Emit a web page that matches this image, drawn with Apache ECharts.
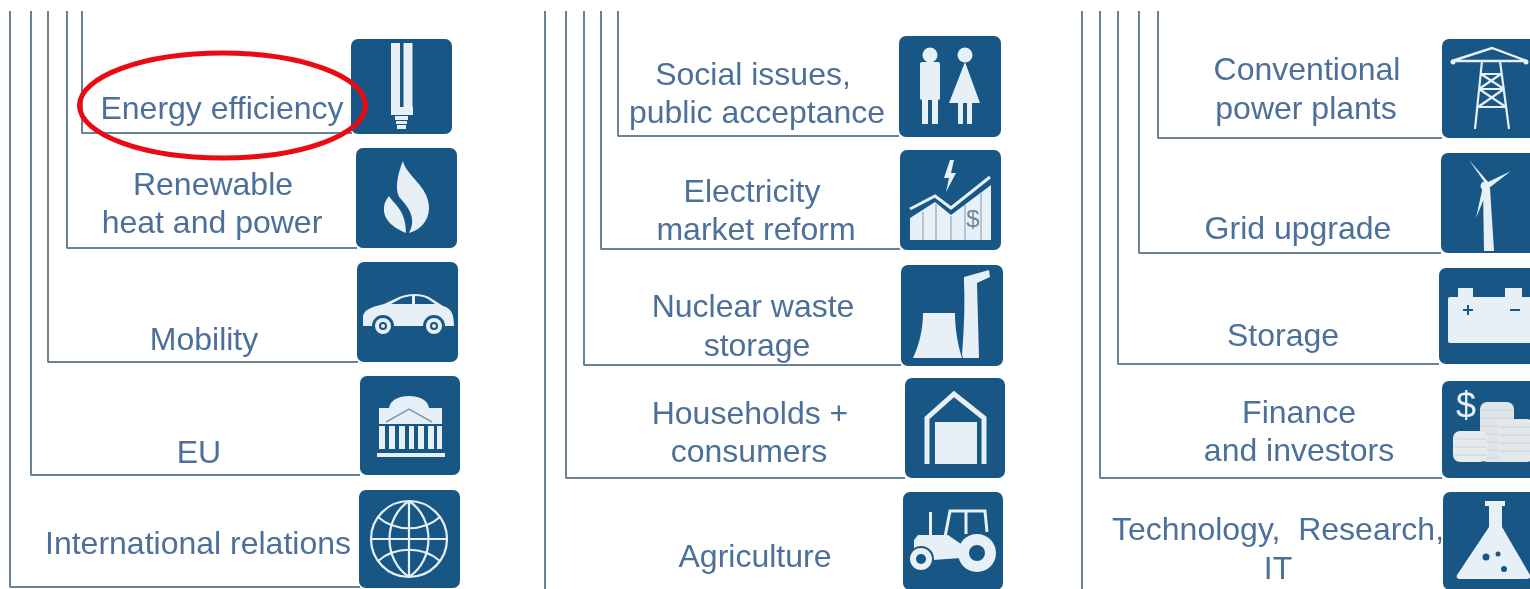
<!DOCTYPE html>
<html><head><meta charset="utf-8">
<style>html,body{margin:0;padding:0;background:#fff}#c{width:1530px;height:589px}</style>
<script src="https://cdn.jsdelivr.net/npm/echarts@6/dist/echarts.min.js"></script>
</head><body><div id="c"></div>
<script>
// Text lines and where each one sits on the hidden page axes
const labelLines = ['Energy efficiency','Renewable','heat and power','Mobility','EU','International relations',
  'Social issues,','public acceptance','Electricity','market reform','Nuclear waste','storage','Households +','consumers','Agriculture',
  'Conventional','power plants','Grid upgrade','Storage','Finance','and investors','Technology,  Research,','IT'];
const labelX = [222,213,212,204,199,198, 753,757,752,756,753,757,750,749,755, 1307,1306,1298,1283,1299,1299,1278,1278];
const labelY = [108,184,222,339,452,543, 74,112,191,229,306,345,413,451,556, 69,108,228,335,412,450,529,568];

// Bracket trunks: trunk x, elbow y, end x
const trunkX = [82,67,48,31,10, 618,601,584,566,545, 1158,1139,1118,1100,1082];
const elbowY = [133,248,362,475,587, 136,249,365,478,590, 138,253,364,478,590];
const endX   = [352,357,358,360,360, 899,900,901,905,903, 1442,1441,1439,1442,1443];

// Icon tiles
const iconNames = ['bulb','flame','car','building','globe','people','market','plant','house','tractor','pylon','wind','battery','coins','flask'];
const tileLeft  = [351,356,357,360,359, 899,900,901,905,903, 1442,1441,1439,1442,1443];
const tileTop   = [39,148,262,376,490, 36,150,265,378,492, 39,153,268,381,492];
const tileRight = [452,457,458,460,460, 1001,1001,1003,1005,1003, 1543,1542,1540,1543,1544];
const tileBottom= [134,248,362,475,588, 137,250,366,478,590, 138,253,364,478,590];

// Highlight ellipse: centre x, centre y, radius x, radius y
const highlight = [222.5,105.5,143,52.5];

const TILE='#185785', INK='#e6f0f6', TXT='#4c7099', RULE='#6a8295', RED='#ec0a12';
const fill=(d,c)=>({type:'path',shape:{pathData:d},style:{fill:c||INK}});
const line=(d,w,c)=>({type:'path',shape:{pathData:d},style:{fill:'none',stroke:c||INK,lineWidth:w||2}});
const rect=(x,y,w,h,c,r)=>({type:'rect',shape:{x,y,width:w,height:h,r:r||0},style:{fill:c||INK}});
const disc=(x,y,r,c)=>({type:'circle',shape:{cx:x,cy:y,r},style:{fill:c||INK}});
const glyph=(t,x,y,s,c)=>({type:'text',x,y,style:{text:t,fill:c||INK,font:s+'px "Liberation Sans"',textAlign:'center',textVerticalAlign:'middle'}});
const stack=(x,y,w,h,c)=>{
  const out=[rect(x,y,w,h,c,7)];
  for(let k=y+8;k<y+h-3;k+=8) out.push(line('M'+(x+1)+' '+k+'L'+(x+w-1)+' '+k,1,'#cbd5da'));
  return out;
};

const icons={
 bulb:()=>[rect(40,4,9,64),rect(52.5,4,9,64),rect(40,68,22,8),rect(44,77,13,4),rect(45,82,11,3),rect(46,86,9,4)],
 flame:()=>[fill('M47 13C50 28 73 38 73 60C73 73 64 82 53 85C60 72 55 62 44 50C38 42 42 25 47 13Z'),
   fill('M33 48C38 56 50 62 50 85C38 80 27 72 28 60C28 55 30 52 33 48Z')],
 car:()=>[fill('M6 54C7 48 14 45 27 42L42 35C52 31 64 31 72 35L86 44C93 46 97 50 97 64L6 64Z'),
   fill('M34 42L45 36C49 35 52 34 55 34L55 42Z',TILE),fill('M58 34C63 34 68 35 71 37L78 42L58 42Z',TILE),
   disc(26,64,11,TILE),disc(26,64,8),disc(26,64,4,TILE),disc(26,64,2),
   disc(77,64,11,TILE),disc(77,64,8),disc(77,64,4,TILE),disc(77,64,2)],
 building:()=>[fill('M29 32C30 24 39 20 49 20C59 20 68 24 69 32Z'),rect(19,32,63,16),
   line('M26 46L49 33L72 46',1.5,'#7d9ab3'),
   rect(19,50,6,23),rect(29,50,6,23),rect(39,50,6,23),rect(49,50,5,23),rect(58,50,6,23),rect(68,50,6,23),rect(77,50,5,23),rect(17,77,68,4)],
 globe:()=>[line('M12 49A38 38 0 1 0 88 49A38 38 0 1 0 12 49Z',2.2),line('M50 11L50 87M12 49L88 49',2.2),
   line('M50 11C24 28 24 70 50 87M50 11C76 28 76 70 50 87',2.2),line('M19 27C36 42 64 42 81 27M19 71C36 56 64 56 81 71',2.2)],
 people:()=>[disc(31,19,7.5),rect(21,26,20,38,INK,2),rect(23,62,6,26),rect(33,62,6,26),
   disc(66,19,7.5),fill('M66 26L81 67L50 67Z'),rect(59,66,5,22),rect(68,66,5,22)],
 market:()=>[fill('M10 68L35 52L51 65L91 35L91 90L10 90Z'),line('M10 59L35 46L51 58L90 27',3),
   fill('M50 10L44 28L49 28L46 42L56 23L51 23L54 10Z'),
   line('M23 62L23 90M36 54L36 90M51 66L51 90M65 55L65 90M81 42L81 90',1,'#7d9ab3'),
   glyph('$',73,70,24,'#6f8799')],
 plant:()=>[fill('M22 48L54 48C54 65 57 80 61 93L12 93C18 80 22 65 22 48Z'),
   fill('M63 18L63 12L88 5L89 12L76 18L78 93L62 93L61 90C63 65 64 40 63 18Z')],
 house:()=>[line('M22 86L22 40L49 16L79 40L79 86',5),rect(30,44,42,42)],
 tractor:()=>[line('M42 45L47 19L82 19L84 40M63 19L63 42',3),rect(26,20,3,25),
   fill('M11 48L15 43L45 43L58 52L58 66L30 68L11 62Z'),
   disc(74,61,19),disc(74,61,8,TILE),disc(18,67,13,TILE),disc(18,67,11),disc(18,67,5,TILE)],
 pylon:()=>[line('M10 22L50 9L85 22M10 22L85 22',2.4),disc(11,23,2.5),disc(84,23,2.5),
   line('M40 22L33 90M58 22L67 90M39 35L59 35M37 50L62 50M36 68L64 68M39 35L62 50M59 35L37 50M37 50L64 68M62 50L36 68',2.2)],
 wind:()=>[fill('M42 35L49 35L53 98L43 98Z'),disc(44,33,4.5),fill('M44 30L28 7L48 30Z'),fill('M45 30L70 18L48 35Z'),fill('M42 33L35 65L47 36Z')],
 battery:()=>[rect(9,29,85,46,INK,2),rect(19,20,15,9),rect(66,20,17,9),line('M24 42L34 42M29 37L29 47',2,TILE),line('M71 42L81 42',2,TILE)],
 coins:()=>[glyph('$',24,27,36),...stack(38,21,34,60,'#dfe5e8'),...stack(11,50,34,31,'#e6ebec'),...stack(56,38,36,43,'#e3e8ea')],
 flask:()=>[rect(42,9,20,5),fill('M46 14L59 14L59 35L87 83C88 86 86 87 84 87L17 87C14 87 13 85 14 83L46 35Z'),
   disc(43,65,3.5,TILE),disc(55,62,2.5,TILE),disc(61,77,3,TILE)]
};

const brackets = trunkX.map((x,i)=>({
  type:'line',silent:true,symbol:'none',animation:false,z:1,
  lineStyle:{color:RULE,width:2},
  data:[[x,11],[x,elbowY[i]],[endX[i],elbowY[i]]]
}));

const chart=echarts.init(document.getElementById('c'),null,{renderer:'canvas'});
chart.setOption({
  backgroundColor:'#fff',animation:false,
  grid:{left:0,right:0,top:0,bottom:0},
  xAxis:{type:'value',min:0,max:1530,show:false},
  yAxis:{type:'value',min:0,max:589,inverse:true,show:false},
  series:[...brackets,
  {type:'custom',silent:true,z:2,coordinateSystem:'cartesian2d',encode:{x:[0,2],y:[1,3]},
   data:iconNames.map((n,i)=>[tileLeft[i],tileTop[i],tileRight[i],tileBottom[i],i]),
   renderItem:(p,api)=>{
     const a=api.coord([api.value(0),api.value(1)]),b=api.coord([api.value(2),api.value(3)]);
     return {type:'group',x:a[0],y:a[1],children:[
       {type:'rect',shape:{x:0,y:0,width:b[0]-a[0],height:b[1]-a[1],r:7},style:{fill:TILE}},
       ...icons[iconNames[api.value(4)]]()]};
   }},
  {type:'scatter',silent:true,z:3,symbolSize:0,itemStyle:{opacity:1},
   data:labelLines.map((t,i)=>({name:t,value:[labelX[i],labelY[i]]})),
   label:{show:true,position:'inside',offset:[0,2],opacity:1,formatter:'{b}',color:TXT,fontSize:32,fontFamily:'"Liberation Sans",Arial,sans-serif'}},
  {type:'custom',silent:true,z:4,coordinateSystem:'cartesian2d',encode:{x:0,y:1},
   data:[highlight],
   renderItem:(p,api)=>{
     const c=api.coord([api.value(0),api.value(1)]),s=api.size([api.value(2),api.value(3)]);
     return {type:'ellipse',shape:{cx:c[0],cy:c[1],rx:s[0],ry:s[1]},style:{fill:'none',stroke:RED,lineWidth:5}};
   }}
  ]
});
</script></body></html>
